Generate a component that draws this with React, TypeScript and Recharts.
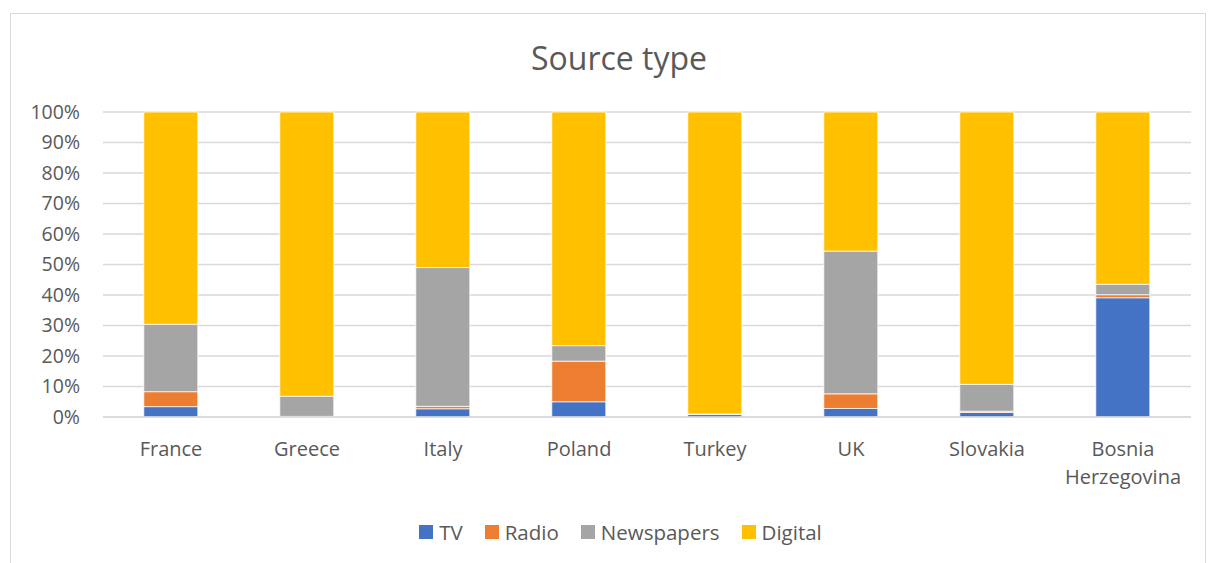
import { Bar, BarChart, CartesianGrid, Legend, XAxis, YAxis } from "recharts";

const COUNTRIES = ["France", "Greece", "Italy", "Poland", "Turkey", "UK", "Slovakia", "Bosnia Herzegovina"];
const TV = [3.4, 0.2, 2.7, 5.0, 0.8, 2.8, 1.5, 39.1];
const RADIO = [4.9, 0, 0.8, 13.3, 0, 4.8, 0.4, 1.0];
const NEWSPAPERS = [22.1, 6.6, 45.5, 5.1, 0.2, 46.8, 8.8, 3.4];
const DIGITAL = [69.6, 93.2, 51.0, 76.6, 99.0, 45.6, 89.3, 56.5];
const Y_TICKS = [0, 0.1, 0.2, 0.3, 0.4, 0.5, 0.6, 0.7, 0.8, 0.9, 1];

const SERIES = [
  { key: "TV", color: "#4472C4" },
  { key: "Radio", color: "#ED7D31" },
  { key: "Newspapers", color: "#A5A5A5" },
  { key: "Digital", color: "#FFC000" },
];

const TEXT = "#595959";
const FONT = "'Open Sans', sans-serif";

const data = COUNTRIES.map((name, i) => ({
  name,
  TV: TV[i],
  Radio: RADIO[i],
  Newspapers: NEWSPAPERS[i],
  Digital: DIGITAL[i],
}));

/** Category tick; long labels wrap onto two lines like Excel does. */
function CountryTick(props: any) {
  const { x, y, payload } = props;
  const label: string = payload.value;
  const lines = label.length > 12 ? label.split(" ") : [label];
  return (
    <g transform={`translate(${x},${y})`}>
      {lines.map((line, i) => (
        <text
          key={line}
          x={0}
          y={31 + i * 28}
          textAnchor="middle"
          fill={TEXT}
          fontSize={20}
          fontFamily={FONT}
        >
          {line}
        </text>
      ))}
    </g>
  );
}

function LegendContent() {
  return (
    <div
      style={{
        height: 30,
        display: "flex",
        justifyContent: "center",
        alignItems: "center",
        paddingLeft: 50,
        fontFamily: FONT,
        fontSize: 20.5,
        color: TEXT,
      }}
    >
      {SERIES.map((s) => (
        <div key={s.key} style={{ display: "flex", alignItems: "center", margin: "0 11px" }}>
          <span style={{ width: 14, height: 14, background: s.color, marginRight: 6 }} />
          <span>{s.key}</span>
        </div>
      ))}
    </div>
  );
}

export default function App() {
  return (
    <div
      style={{
        position: "absolute",
        left: 0,
        top: 0,
        width: 1215,
        height: 563,
        background: "#fff",
        overflow: "hidden",
        fontFamily: FONT,
      }}
    >
      <div
        style={{
          position: "absolute",
          left: 10,
          top: 13,
          width: 1194,
          height: 600,
          border: "1px solid #d9d9d9",
        }}
      />
      <div
        style={{
          position: "absolute",
          left: 0,
          width: 1238,
          top: 38,
          textAlign: "center",
          fontSize: 32,
          color: TEXT,
          lineHeight: "40px",
        }}
      >
        Source type
      </div>
      <div style={{ position: "absolute", left: 0, top: 0 }}>
        <BarChart
          width={1215}
          height={563}
          data={data}
          stackOffset="expand"
          barCategoryGap="30%"
          margin={{ top: 112, right: 24, left: 0, bottom: 16 }}
        >
          <CartesianGrid vertical={false} stroke="#d9d9d9" strokeWidth={1.5} />
          <XAxis
            dataKey="name"
            height={100}
            axisLine={{ stroke: "#d9d9d9", strokeWidth: 1.5 }}
            tickLine={false}
            tick={<CountryTick />}
            interval={0}
          />
          <YAxis
            width={103}
            domain={[0, 1]}
            ticks={Y_TICKS}
            axisLine={false}
            tickLine={false}
            tickSize={0}
            tickMargin={23}
            tick={{ fill: TEXT, fontSize: 19.5, fontFamily: FONT }}
            tickFormatter={(v: number) => `${Math.round(v * 100)}%`}
          />
          <Legend verticalAlign="bottom" content={<LegendContent />} />
          {SERIES.map((s) => (
            <Bar
              key={s.key}
              dataKey={s.key}
              stackId="a"
              fill={s.color}
              stroke="#ffffff"
              strokeWidth={0.75}
              isAnimationActive={false}
            />
          ))}
        </BarChart>
      </div>
    </div>
  );
}
